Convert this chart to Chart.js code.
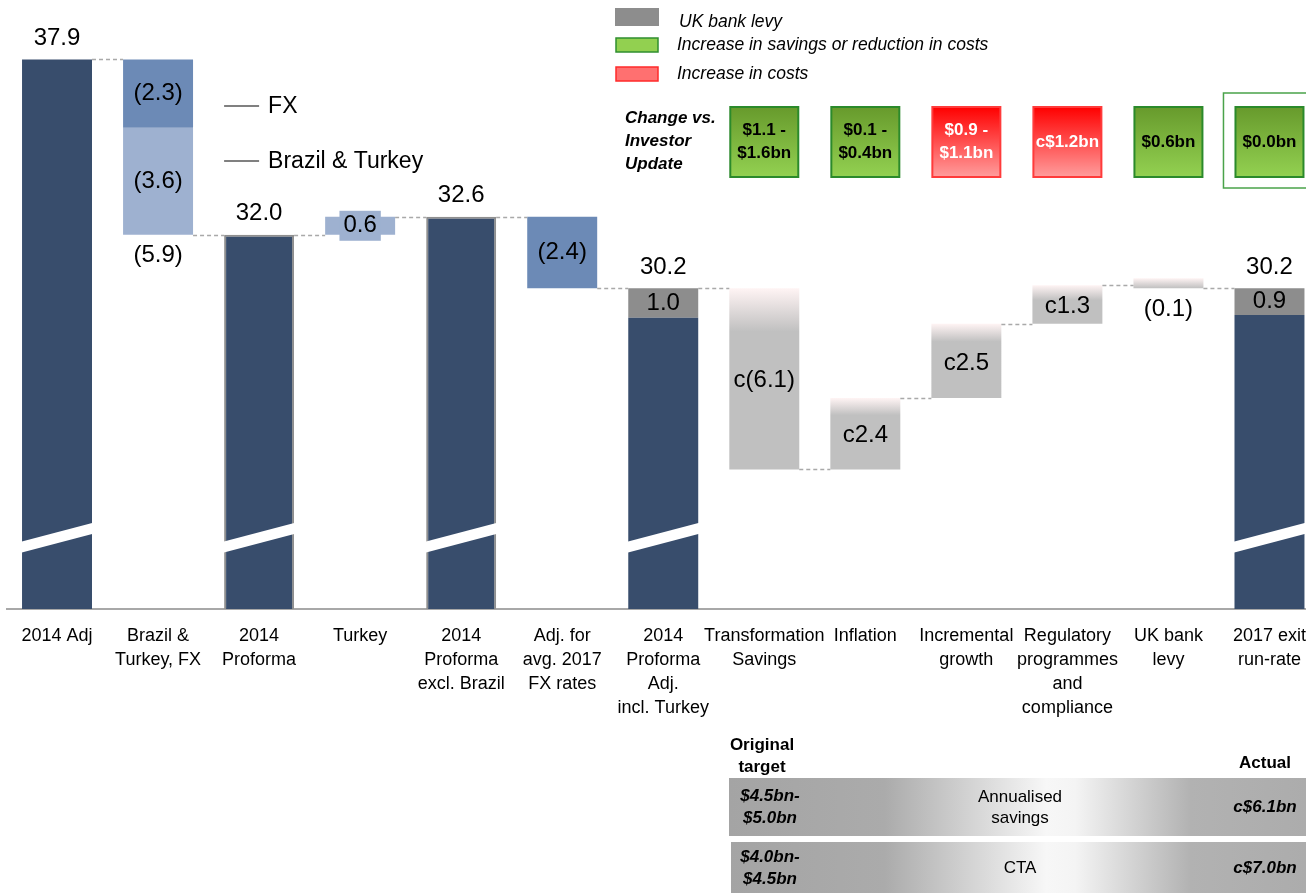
<!DOCTYPE html>
<html>
<head>
<meta charset="utf-8">
<script src="https://cdn.jsdelivr.net/npm/chart.js@4.4.1/dist/chart.umd.min.js"></script>
<style>
  html, body { margin: 0; padding: 0; background: #fff; overflow: hidden; }
  #wrap { position: relative; width: 1306px; height: 893px; overflow: hidden; }
  #bridge { position: absolute; left: 0; top: 0; }
</style>
</head>
<body>
<div id="wrap"><canvas id="bridge" width="1321" height="893"></canvas></div>
<script>
// Cost base bridge, $bn (axis is broken: bars start well below the visible range)
var categories = [
  ['2014 Adj'], ['Brazil &', 'Turkey, FX'], ['2014', 'Proforma'], ['Turkey'],
  ['2014', 'Proforma', 'excl. Brazil'], ['Adj. for', 'avg. 2017', 'FX rates'],
  ['2014', 'Proforma', 'Adj.', 'incl. Turkey'], ['Transformation', 'Savings'], ['Inflation'],
  ['Incremental', 'growth'], ['Regulatory', 'programmes', 'and', 'compliance'],
  ['UK bank', 'levy'], ['2017 exit', 'run-rate']
];
var totals = [37.9, null, 32.0, null, 32.6, null, 30.2, null, null, null, null, null, 30.2];
var bankLevy = [null, null, null, null, null, null, 1.0, null, null, null, null, null, 0.9];
var fxMoves = [null, -2.3, null, null, null, -2.4, null, null, null, null, null, null, null];
var brazilTurkeyMoves = [null, -3.6, null, 0.6, null, null, null, null, null, null, null, null, null];
var costMoves = [null, null, null, null, null, null, null, -6.1, 2.4, 2.5, 1.3, -0.1, null];
var costApprox = [false, false, false, false, false, false, false, true, true, true, true, false, false];

var changeVsUpdate = [null, null, null, null, null, null, null,
  ['$1.1 -', '$1.6bn'], ['$0.1 -', '$0.4bn'], ['$0.9 -', '$1.1bn'], ['c$1.2bn'], ['$0.6bn'], ['$0.0bn']];
var changeIsCost = [false, false, false, false, false, false, false, false, false, true, true, false, false];

var savingsRows = [
  { target: ['$4.5bn-', '$5.0bn'], name: ['Annualised', 'savings'], actual: 'c$6.1bn' },
  { target: ['$4.0bn-', '$4.5bn'], name: ['CTA'], actual: 'c$7.0bn' }
];

var AXIS_MIN = 19.4, AXIS_MAX = 39.9, BREAK_AT = 21.8;
var outlinedBars = [2, 4];

var FONT = '"Liberation Sans", Arial, Helvetica, sans-serif';
var NAVY = '#384d6c', FX_BLUE = '#6c8ab6', LIGHT_BLUE = '#9eb1d0', LEVY_GREY = '#8d8d8d', COST_GREY = '#c0c0c0';

// build the floating segments from the moves
var navyBars = [], levyBars = [], fxBars = [], btBars = [], costBars = [], levels = [];
(function(){
  var level = 0;
  function seg(from, move){ var to = from + move; return [Math.min(from, to), Math.max(from, to)]; }
  for (var i = 0; i < categories.length; i++) {
    navyBars.push(null); levyBars.push(null); fxBars.push(null); btBars.push(null); costBars.push(null);
    if (totals[i] != null) {
      level = totals[i];
      var lv = bankLevy[i] || 0;
      navyBars[i] = [0, totals[i] - lv];
      if (lv) levyBars[i] = [totals[i] - lv, totals[i]];
    }
    if (fxMoves[i] != null) { fxBars[i] = seg(level, fxMoves[i]); level += fxMoves[i]; }
    if (brazilTurkeyMoves[i] != null) { btBars[i] = seg(level, brazilTurkeyMoves[i]); level += brazilTurkeyMoves[i]; }
    if (costMoves[i] != null) { costBars[i] = seg(level, costMoves[i]); level += costMoves[i]; }
    levels.push(level);
  }
})();

function fmt(v){ return v < 0 ? '(' + (-v).toFixed(1) + ')' : v.toFixed(1); }

function costFill(ctx){
  var chart = ctx.chart, raw = ctx.raw;
  if (!raw || !chart.chartArea || !chart.scales.y) return COST_GREY;
  var y = chart.scales.y;
  var bottom = y.getPixelForValue(raw[0]);
  var top = Math.min(y.getPixelForValue(raw[1]), bottom - 10);
  var h = bottom - top;
  var stop = Math.min(1, Math.max(0.24, 15 / h));
  var g = chart.ctx.createLinearGradient(0, top, 0, bottom);
  g.addColorStop(0, '#fff4f4');
  g.addColorStop(stop, COST_GREY);
  g.addColorStop(1, COST_GREY);
  return g;
}

function text(c, s, x, y, font, color, align){
  c.font = font; c.fillStyle = color || '#000';
  c.textAlign = align || 'center'; c.textBaseline = 'middle';
  c.fillText(s, x, y);
}

var bridgeExtras = {
  id: 'bridgeExtras',
  afterDatasetsDraw: function(chart){
    var c = chart.ctx, x = chart.scales.x, y = chart.scales.y;
    var half = (x.getPixelForValue(1) - x.getPixelForValue(0)) * 0.6925 / 2;
    c.save();
    // axis break marks on the total bars
    var yb = y.getPixelForValue(BREAK_AT);
    c.fillStyle = '#fff';
    totals.forEach(function(t, i){
      if (t == null) return;
      var cx = x.getPixelForValue(i), l = cx - half - 3, r = cx + half + 3;
      c.beginPath();
      c.moveTo(l, yb + 10 - 5.5); c.lineTo(r, yb - 10 - 5.5);
      c.lineTo(r, yb - 10 + 5.5); c.lineTo(l, yb + 10 + 5.5);
      c.closePath(); c.fill();
    });
    // dashed connectors
    c.setLineDash([4, 3]); c.strokeStyle = '#a9a9a9'; c.lineWidth = 1.5;
    for (var i = 0; i < levels.length - 1; i++) {
      var py = Math.round(y.getPixelForValue(levels[i])) + 0.5;
      c.beginPath();
      c.moveTo(x.getPixelForValue(i) + half, py);
      c.lineTo(x.getPixelForValue(i + 1) - half, py);
      c.stroke();
    }
    c.restore();
  },
  afterDraw: function(chart){
    var c = chart.ctx, x = chart.scales.x, y = chart.scales.y;
    var big = '24px ' + FONT;
    c.save();

    // value labels
    for (var i = 0; i < categories.length; i++) {
      var cx = x.getPixelForValue(i);
      if (totals[i] != null) text(c, totals[i].toFixed(1), cx, y.getPixelForValue(totals[i]) - 21, big);
      if (levyBars[i]) text(c, bankLevy[i].toFixed(1), cx, y.getPixelForValue((levyBars[i][0] + levyBars[i][1]) / 2), big);
      if (fxBars[i]) text(c, fmt(fxMoves[i]), cx, y.getPixelForValue((fxBars[i][0] + fxBars[i][1]) / 2), big);
      if (btBars[i]) {
        var my = y.getPixelForValue((btBars[i][0] + btBars[i][1]) / 2);
        var bh = y.getPixelForValue(btBars[i][0]) - y.getPixelForValue(btBars[i][1]);
        var s = fmt(brazilTurkeyMoves[i]);
        if (bh < 30) {
          c.font = big;
          var w = c.measureText(s).width + 8;
          c.fillStyle = LIGHT_BLUE;
          c.fillRect(cx - w / 2, my - 15, w, 30);
        }
        text(c, s, cx, my, big);
      }
      if (fxBars[i] && btBars[i]) {
        var lo = Math.min(fxBars[i][0], btBars[i][0]);
        text(c, fmt(fxMoves[i] + brazilTurkeyMoves[i]), cx, y.getPixelForValue(lo) + 21, big);
      }
      if (costBars[i]) {
        var cs = (costApprox[i] ? 'c' : '') + fmt(costMoves[i]);
        var top = y.getPixelForValue(costBars[i][1]), bot = y.getPixelForValue(costBars[i][0]);
        if (bot - top >= 30) text(c, cs, cx, (top + bot) / 2 + 2, big);
        else text(c, cs, cx, bot + 21, big);
      }
    }

    // FX / Brazil & Turkey key
    var kx = x.getPixelForValue(2);
    c.strokeStyle = '#808080'; c.lineWidth = 2;
    [[106, 'FX'], [161, 'Brazil & Turkey']].forEach(function(k){
      c.beginPath(); c.moveTo(kx - 35, k[0]); c.lineTo(kx, k[0]); c.stroke();
      text(c, k[1], kx + 9, k[0] + 1, '23px ' + FONT, '#000', 'left');
    });

    // top right legend
    var it = 'italic 17.5px ' + FONT;
    c.fillStyle = LEVY_GREY; c.fillRect(615, 8, 44, 18);
    text(c, 'UK bank levy', 679, 22, it, '#000', 'left');
    c.lineWidth = 1.5;
    c.fillStyle = '#92d050'; c.strokeStyle = '#2f8f2f';
    c.fillRect(616, 38, 42, 14); c.strokeRect(616, 38, 42, 14);
    text(c, 'Increase in savings or reduction in costs', 677, 45, it, '#000', 'left');
    c.fillStyle = '#ff7070'; c.strokeStyle = '#ff2a2a';
    c.fillRect(616, 67, 42, 14); c.strokeRect(616, 67, 42, 14);
    text(c, 'Increase in costs', 677, 74, it, '#000', 'left');

    // change vs. investor update boxes
    var bi = 'italic bold 17px ' + FONT;
    text(c, 'Change vs.', 625, 118, bi, '#000', 'left');
    text(c, 'Investor', 625, 141, bi, '#000', 'left');
    text(c, 'Update', 625, 164, bi, '#000', 'left');
    var bb = 'bold 17px ' + FONT;
    changeVsUpdate.forEach(function(lines, i){
      if (!lines) return;
      var cx = x.getPixelForValue(i), l = cx - 34, t = 107, w = 68, h = 70;
      var g = c.createLinearGradient(0, t, 0, t + h);
      if (changeIsCost[i]) { g.addColorStop(0, '#ff0000'); g.addColorStop(1, '#ff9d9d'); }
      else { g.addColorStop(0, '#679a2c'); g.addColorStop(1, '#93d151'); }
      c.fillStyle = g; c.fillRect(l, t, w, h);
      c.strokeStyle = changeIsCost[i] ? '#ff3b3b' : '#2b8a2b'; c.lineWidth = 2;
      c.strokeRect(l, t, w, h);
      var col = changeIsCost[i] ? '#fff' : '#000';
      var y0 = t + h / 2 - (lines.length - 1) * 11.5;
      lines.forEach(function(s, k){ text(c, s, cx, y0 + k * 23, bb, col); });
      if (i === changeVsUpdate.length - 1) {
        c.strokeStyle = '#4aa34a'; c.lineWidth = 1.5;
        c.strokeRect(l - 12, 93, w + 60, 95);
      }
    });

    // savings table
    var tb = 'bold 17px ' + FONT, tbi = 'italic bold 17px ' + FONT, tn = '17px ' + FONT;
    text(c, 'Original', 762, 745, tb);
    text(c, 'target', 762, 767, tb);
    text(c, 'Actual', 1265, 763, tb);
    var rowTop = [778, 842], rowH = [58, 52], rowLeft = [729, 731];
    savingsRows.forEach(function(r, k){
      var t = rowTop[k], h = rowH[k], l = rowLeft[k];
      var g = c.createLinearGradient(729, 0, 1306, 0);
      g.addColorStop(0, '#a4a4a4'); g.addColorStop(0.27, '#ababab');
      g.addColorStop(0.55, '#f7f7f7'); g.addColorStop(0.6, '#f4f4f4');
      g.addColorStop(0.8, '#b2b2b2'); g.addColorStop(1, '#acacac');
      c.fillStyle = g; c.fillRect(l, t, 600, h);
      var mid = t + h / 2;
      text(c, r.target[0], 770, mid - 11, tbi);
      text(c, r.target[1], 770, mid + 11, tbi);
      if (r.name.length === 2) { text(c, r.name[0], 1020, mid - 10, tn); text(c, r.name[1], 1020, mid + 11, tn); }
      else text(c, r.name[0], 1020, mid, tn);
      text(c, r.actual, 1265, mid, tbi);
    });
    c.restore();
  }
};

new Chart(document.getElementById('bridge'), {
  type: 'bar',
  data: {
    labels: categories,
    datasets: [
      { label: 'Total', data: navyBars, backgroundColor: NAVY, borderColor: '#8f8f8f',
        borderWidth: function(ctx){ return outlinedBars.indexOf(ctx.dataIndex) >= 0 ? 2 : 0; } },
      { label: 'UK bank levy', data: levyBars, backgroundColor: LEVY_GREY },
      { label: 'FX', data: fxBars, backgroundColor: FX_BLUE },
      { label: 'Brazil & Turkey', data: btBars, backgroundColor: LIGHT_BLUE },
      { label: 'Cost drivers', data: costBars, backgroundColor: costFill, minBarLength: 10 }
    ]
  },
  options: {
    responsive: false,
    animation: false,
    layout: { padding: { left: 6.5, right: 0, top: 0, bottom: 0 } },
    datasets: { bar: { grouped: false, barPercentage: 0.6925, categoryPercentage: 1, clip: 0 } },
    plugins: { legend: { display: false }, tooltip: { enabled: false } },
    scales: {
      x: {
        grid: { display: false, drawTicks: false },
        border: { display: true, color: '#a8a8a8', width: 2 },
        ticks: { autoSkip: false, maxRotation: 0, minRotation: 0, color: '#000', padding: 15,
                 font: { family: FONT, size: 18, lineHeight: 1.333 } },
        afterFit: function(scale){ scale.height = 284; }
      },
      y: { display: false, min: AXIS_MIN, max: AXIS_MAX }
    }
  },
  plugins: [bridgeExtras]
});
</script>
</body>
</html>
